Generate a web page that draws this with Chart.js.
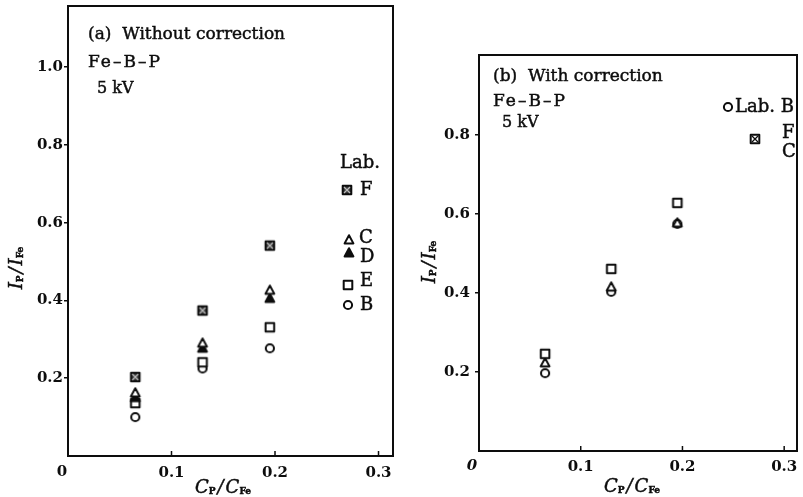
<!DOCTYPE html>
<html>
<head>
<meta charset="utf-8">
<script src="https://cdn.jsdelivr.net/npm/chart.js@4"></script>
<style>
  body { margin: 0; background: #fff; width: 803px; height: 497px; position: relative; overflow: hidden; }
  canvas { position: absolute; top: 0; }
</style>
</head>
<body>
<canvas id="chartA" width="400" height="497" style="left:0"></canvas>
<canvas id="chartB" width="403" height="497" style="left:400px"></canvas>
<script>
// C_P / C_Fe of the three samples
const xRatio = [0.065, 0.13, 0.195];

// (a) without correction, I_P / I_Fe per lab
const aLabF = [0.203, 0.374, 0.541];
const aLabC = [0.162, 0.290, 0.426];
const aLabD = [0.150, 0.277, 0.405];
const aLabE = [0.136, 0.241, 0.331];
const aLabB = [0.100, 0.225, 0.277];

// (b) with correction
const bLabF = [0.246, 0.461, 0.628];
const bLabC = [0.223, 0.415, 0.577];
const bLabB = [0.197, 0.403, 0.575];

const xTicks = [0, 0.1, 0.2, 0.3];
const yTicks = [0.2, 0.4, 0.6, 0.8, 1.0];

const INK = '#0d0d0d';
const SERIF = 'DejaVu Serif';

// marker glyphs drawn once on small canvases
function marker(kind) {
  const c = document.createElement('canvas');
  c.width = c.height = 16;
  const g = c.getContext('2d');
  const m = 8;
  g.lineWidth = 2;
  g.strokeStyle = INK;
  g.fillStyle = '#fff';
  g.lineJoin = 'round';
  if (kind === 'circle') {
    g.beginPath(); g.arc(m, m, 4.1, 0, Math.PI * 2); g.fill(); g.stroke();
  } else if (kind === 'tri' || kind === 'triFill') {
    g.beginPath(); g.moveTo(m, m - 4.8); g.lineTo(m + 4.4, m + 3.4); g.lineTo(m - 4.4, m + 3.4); g.closePath();
    if (kind === 'triFill') g.fillStyle = INK;
    g.fill(); g.stroke();
  } else {
    g.beginPath(); g.rect(m - 4.3, m - 4.3, 8.6, 8.6);
    if (kind === 'squareF') g.fillStyle = '#3a3a3a';
    g.fill(); g.stroke();
    if (kind !== 'square') {
      g.lineWidth = 1.3;
      g.strokeStyle = kind === 'squareF' ? '#bbb' : INK;
      g.beginPath(); g.moveTo(m - 3, m - 3); g.lineTo(m + 3, m + 3);
      g.moveTo(m + 3, m - 3); g.lineTo(m - 3, m + 3); g.stroke();
    }
  }
  return c;
}
const mk = {
  circle: marker('circle'), tri: marker('tri'), triFill: marker('triFill'),
  square: marker('square'), squareF: marker('squareF'), squareX: marker('squareX')
};

function series(vals, style) {
  return {
    data: xRatio.map((x, i) => ({ x: x, y: vals[i] })),
    pointStyle: style, pointRadius: 5, pointHoverRadius: 5, showLine: false
  };
}

// heavier text, like the printed original
function inkText(ctx, s, x, y) {
  ctx.fillText(s, x, y);
  ctx.strokeText(s, x, y);
}

// I_P/I_Fe style label with subscripts
function drawRatio(ctx, cx, cy, rotated, main) {
  const big = 'italic 18px ' + SERIF, small = 'bold 9px ' + SERIF;
  const parts = [[main, big, 0], ['P', small, 4], ['/', big, 0], [main, big, 0], ['Fe', small, 4]];
  const gap = [0, 2, 2, 0, 0];
  let w = 0;
  parts.forEach((p, i) => { ctx.font = p[1]; w += ctx.measureText(p[0]).width + gap[i]; });
  ctx.save();
  ctx.translate(cx, cy);
  if (rotated) ctx.rotate(-Math.PI / 2);
  ctx.textBaseline = 'middle';
  ctx.textAlign = 'left';
  let x = -w / 2;
  parts.forEach((p, i) => { ctx.font = p[1]; inkText(ctx, p[0], x, p[2]); x += ctx.measureText(p[0]).width + gap[i]; });
  ctx.restore();
}

function decoPlugin(cfg) {
  return {
    id: 'deco',
    afterDraw(chart) {
      const ctx = chart.ctx, a = chart.chartArea;
      ctx.save();
      ctx.strokeStyle = INK;
      ctx.lineWidth = 2;
      ctx.strokeRect(a.left, a.top, a.right - a.left, a.bottom - a.top);
      // inward ticks on x axis
      ctx.lineWidth = 1.5;
      chart.scales.x.ticks.forEach(t => {
        if (t.value === 0) return;
        const px = chart.scales.x.getPixelForValue(t.value);
        ctx.beginPath(); ctx.moveTo(px, a.bottom); ctx.lineTo(px, a.bottom - 5); ctx.stroke();
      });
      ctx.fillStyle = INK;
      ctx.lineWidth = 0.45;
      ctx.textBaseline = 'middle';
      ctx.textAlign = 'left';
      cfg.texts.forEach(t => {
        ctx.font = (t.size || 17) + 'px ' + SERIF;
        ctx.letterSpacing = (t.ls || 0) + 'px';
        inkText(ctx, t.t, t.x, t.y);
      });
      ctx.letterSpacing = '0px';
      cfg.marks.forEach(m => {
        const img = mk[m.k];
        ctx.drawImage(img, m.x - img.width / 2, m.y - img.height / 2);
      });
      ctx.font = cfg.zeroFont + ' 15px ' + SERIF;
      ctx.textAlign = 'center';
      ctx.fillText('0', cfg.zero[0], cfg.zero[1]);
      drawRatio(ctx, cfg.xTitle[0], cfg.xTitle[1], false, 'C');
      drawRatio(ctx, cfg.yTitle[0], cfg.yTitle[1], true, 'I');
      ctx.restore();
    }
  };
}

function makeChart(id, datasets, box, xMax, yMax, yLabelPad, xLabelPad, cfg) {
  const canvas = document.getElementById(id);
  const W = canvas.width, H = canvas.height;
  const tickFont = { family: SERIF, size: 15, weight: 'bold' };
  return new Chart(canvas, {
    type: 'scatter',
    data: { datasets: datasets },
    options: {
      responsive: false,
      animation: false,
      layout: { padding: { left: 0, top: box.top, right: W - box.right, bottom: 0 } },
      plugins: { legend: { display: false }, tooltip: { enabled: false } },
      scales: {
        x: {
          type: 'linear', min: 0, max: xMax,
          border: { display: false },
          grid: { display: false, drawTicks: false },
          ticks: {
            color: INK, font: tickFont, padding: xLabelPad, maxRotation: 0,
            callback: v => (v === 0 ? '' : v.toFixed(1))
          },
          afterBuildTicks: s => { s.ticks = xTicks.map(v => ({ value: v })); },
          afterFit: s => { s.height = H - box.bottom; s.paddingLeft = 0; s.paddingRight = 0; }
        },
        y: {
          type: 'linear', min: 0, max: yMax,
          border: { display: false },
          grid: { drawOnChartArea: false, drawTicks: true, tickLength: 4, tickColor: INK, lineWidth: 1.5 },
          ticks: {
            color: INK, font: tickFont, padding: yLabelPad,
            callback: v => v.toFixed(1)
          },
          afterBuildTicks: s => { s.ticks = yTicks.filter(v => v < yMax - 0.01).map(v => ({ value: v })); },
          afterFit: s => { s.width = box.left; s.paddingTop = 0; s.paddingBottom = 0; }
        }
      }
    },
    plugins: [decoPlugin(cfg)]
  });
}

makeChart('chartA', [
  series(aLabF, mk.squareF),
  series(aLabC, mk.tri),
  series(aLabD, mk.triFill),
  series(aLabE, mk.square),
  series(aLabB, mk.circle)
], { left: 68, top: 6, right: 393, bottom: 456 }, 0.314, 1.157, 1, 8, {
  texts: [
    { t: '(a)  Without correction', x: 88, y: 35 },
    { t: 'Fe–B–P', x: 88, y: 63, ls: 2 },
    { t: '5 kV', x: 97, y: 89, size: 16 },
    { t: 'Lab.', x: 340, y: 163, size: 18 },
    { t: 'F', x: 360, y: 190, size: 18 },
    { t: 'C', x: 359, y: 238, size: 18 },
    { t: 'D', x: 360, y: 257, size: 18 },
    { t: 'E', x: 360, y: 281, size: 18 },
    { t: 'B', x: 360, y: 305, size: 18 }
  ],
  marks: [
    { k: 'squareF', x: 347, y: 190 },
    { k: 'tri', x: 349, y: 240 },
    { k: 'triFill', x: 349, y: 253 },
    { k: 'square', x: 348, y: 285 },
    { k: 'circle', x: 348, y: 305 }
  ],
  zero: [62, 472], zeroFont: 'bold',
  xTitle: [223, 488], yTitle: [17, 268]
});

makeChart('chartB', [
  series(bLabF, mk.square),
  series(bLabC, mk.tri),
  series(bLabB, mk.circle)
], { left: 79, top: 55, right: 401, bottom: 451 }, 0.3126, 1.0025, 5, 7, {
  texts: [
    { t: '(b)  With correction', x: 93, y: 77 },
    { t: 'Fe–B–P', x: 93, y: 102, ls: 2 },
    { t: '5 kV', x: 102, y: 123, size: 16 },
    { t: 'Lab. B', x: 335, y: 107, size: 18 },
    { t: 'F', x: 382, y: 133, size: 18 },
    { t: 'C', x: 382, y: 152, size: 18 }
  ],
  marks: [
    { k: 'circle', x: 328, y: 107 },
    { k: 'squareX', x: 355, y: 139 }
  ],
  zero: [72, 466], zeroFont: 'italic bold',
  xTitle: [232, 487], yTitle: [30, 262]
});
</script>
</body>
</html>
